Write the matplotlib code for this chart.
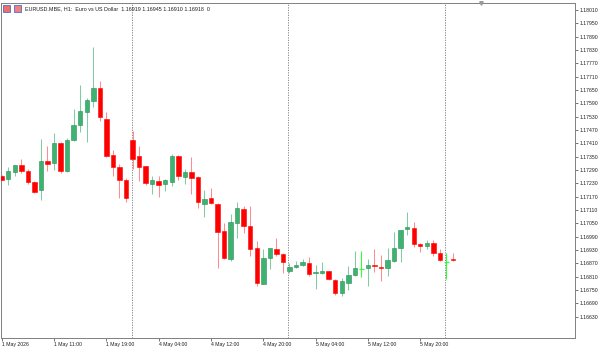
"""
EURUSD H1 candlestick chart (MT5 style), 1-6 May 2026.
"""

import pandas as pd
import matplotlib
matplotlib.use("Agg")
import matplotlib.pyplot as plt
from matplotlib.patches import Rectangle

plt.rcParams["font.family"] = ["Liberation Sans", "DejaVu Sans"]

# ---- data ----
opens = [
    1.17264, 1.17248, 1.17281, 1.17314, 1.17284, 1.17237, 1.17198, 1.17329, 1.17323, 1.17413,
    1.17284, 1.17424, 1.17494, 1.17551, 1.17600, 1.17657, 1.17521, 1.17356, 1.17303, 1.17245,
    1.17425, 1.17351, 1.17308, 1.17227, 1.17242, 1.17227, 1.17237, 1.17353, 1.17258, 1.17279,
    1.17258, 1.17135, 1.17165, 1.17139, 1.17016, 1.16890, 1.17051, 1.17114, 1.17036, 1.16938,
    1.16778, 1.16893, 1.16936, 1.16912, 1.16834, 1.16852, 1.16861, 1.16873, 1.16825, 1.16827,
    1.16834, 1.16797, 1.16735, 1.16780, 1.16818, 1.16846, 1.16848, 1.16863, 1.16855, 1.16849,
    1.16882, 1.16938, 1.17024, 1.17031, 1.16959, 1.16947, 1.16962, 1.16915, 1.16876, 1.16890,
]
highs = [
    1.17267, 1.17303, 1.17314, 1.17339, 1.17296, 1.17240, 1.17428, 1.17398, 1.17457, 1.17416,
    1.17436, 1.17565, 1.17673, 1.17616, 1.17842, 1.17691, 1.17551, 1.17382, 1.17317, 1.17255,
    1.17466, 1.17398, 1.17310, 1.17261, 1.17264, 1.17251, 1.17363, 1.17357, 1.17296, 1.17347,
    1.17261, 1.17201, 1.17207, 1.17141, 1.17051, 1.17091, 1.17148, 1.17130, 1.17126, 1.16972,
    1.16936, 1.16941, 1.16986, 1.16917, 1.16870, 1.16879, 1.16891, 1.16900, 1.16864, 1.16878,
    1.16837, 1.16798, 1.16804, 1.16857, 1.16924, 1.16927, 1.16891, 1.16936, 1.16908, 1.16939,
    1.17013, 1.17022, 1.17103, 1.17054, 1.16963, 1.16974, 1.16977, 1.16933, 1.16915, 1.16915,
]
lows = [
    1.17243, 1.17222, 1.17261, 1.17278, 1.17228, 1.17188, 1.17157, 1.17285, 1.17290, 1.17278,
    1.17281, 1.17419, 1.17460, 1.17416, 1.17574, 1.17512, 1.17350, 1.17264, 1.17163, 1.17145,
    1.17296, 1.17239, 1.17221, 1.17183, 1.17169, 1.17194, 1.17218, 1.17243, 1.17227, 1.17183,
    1.17118, 1.17078, 1.17138, 1.16849, 1.16888, 1.16882, 1.16983, 1.17006, 1.16902, 1.16766,
    1.16775, 1.16846, 1.16902, 1.16828, 1.16825, 1.16851, 1.16858, 1.16812, 1.16754, 1.16822,
    1.16795, 1.16727, 1.16721, 1.16750, 1.16813, 1.16809, 1.16768, 1.16833, 1.16791, 1.16813,
    1.16876, 1.16878, 1.16998, 1.16942, 1.16923, 1.16933, 1.16903, 1.16882, 1.16800, 1.16881,
]
closes = [
    1.17246, 1.17284, 1.17311, 1.17284, 1.17237, 1.17192, 1.17329, 1.17318, 1.17410, 1.17287,
    1.17424, 1.17491, 1.17554, 1.17604, 1.17657, 1.17529, 1.17354, 1.17305, 1.17243, 1.17165,
    1.17341, 1.17303, 1.17230, 1.17243, 1.17221, 1.17246, 1.17351, 1.17261, 1.17279, 1.17255,
    1.17145, 1.17160, 1.17142, 1.17013, 1.16893, 1.17058, 1.17118, 1.17037, 1.16935, 1.16781,
    1.16896, 1.16938, 1.16912, 1.16875, 1.16855, 1.16864, 1.16878, 1.16822, 1.16830, 1.16837,
    1.16798, 1.16735, 1.16789, 1.16819, 1.16849, 1.16846, 1.16863, 1.16857, 1.16851, 1.16885,
    1.16941, 1.17022, 1.17034, 1.16956, 1.16950, 1.16963, 1.16917, 1.16887, 1.16876, 1.16884,
]

# bar times (1 May closes at 22:00, then 4, 5 and 6 May)
times = (
    list(pd.date_range("2026-05-01 03:00", "2026-05-01 22:00", freq="h"))
    + list(pd.date_range("2026-05-04 00:00", "2026-05-05 23:00", freq="h"))
    + list(pd.date_range("2026-05-06 00:00", "2026-05-06 01:00", freq="h"))
)

price_ticks = [1.16630 + 0.0006 * k for k in range(24)]
header = "EURUSD.MBE, H1:  Euro vs US Dollar  1.16919 1.16945 1.16910 1.16918  0"

BULL = "#3CB371"
BULL_EDGE = "#2E8B57"
BEAR = "#FF0000"
DOJI = "#33FF33"


def draw_candles(ax):
    px = 0.000045  # roughly one pixel in price
    for i, (o, h, l, c) in enumerate(zip(opens, highs, lows, closes)):
        if c > o:
            col, edge, wa = BULL, BULL_EDGE, 0.65
        elif c < o:
            col, edge, wa = BEAR, BEAR, 0.45
        else:
            col, edge, wa = DOJI, DOJI, 1.0
        ax.vlines(i, l, h, color=col, lw=0.75, alpha=wa, zorder=2)
        if c == o:
            ax.hlines(o, i - 0.35, i + 0.35, color=col, lw=0.9, zorder=3)
            continue
        bottom = min(o, c)
        height = max(abs(c - o), px)
        ax.bar(i, height, bottom=bottom, width=0.68, color=col,
               edgecolor=edge, linewidth=0.4, zorder=3)


def main():
    fig = plt.figure(figsize=(6, 3.48), dpi=100)
    ax = fig.add_axes([1 / 600, 10 / 348, 574 / 600, 335 / 348])

    draw_candles(ax)

    # period separators at the first bar of each new day
    for i in range(1, len(times)):
        if times[i].date() != times[i - 1].date():
            ax.axvline(i - 0.15, color="#777777", lw=0.6, ls=(0, (1.5, 1.5)), zorder=1)

    ax.set_xlim(-0.11, 87.66)
    ax.set_ylim(1.16534, 1.180415)

    # price axis on the right
    ax.yaxis.tick_right()
    ax.set_yticks(price_ticks)
    ax.set_yticklabels([f"{p:.5f}" for p in price_ticks], fontsize=3.7)
    ax.tick_params(axis="y", length=2.2, width=0.5, pad=1, colors="#404040", labelcolor="#202020")

    # time axis, a label every 8 bars
    xt = list(range(0, len(times), 8))
    xl = []
    for i in xt:
        t = times[i]
        if i == 0:
            xl.append(f"{t.day} {t.strftime('%b')} {t.year}")
        else:
            xl.append(f"{t.day} {t.strftime('%b')} {t.strftime('%H:%M')}")
    ax.set_xticks(xt)
    ax.set_xticklabels(xl, fontsize=3.7, ha="left")
    ax.tick_params(axis="x", length=2.2, width=0.5, pad=1, colors="#404040", labelcolor="#202020")

    for s in ax.spines.values():
        s.set_color("#808080")
        s.set_linewidth(0.7)

    # chart shift marker
    ax.plot([(481 - 1) / 574], [1.0], marker="v", ms=2.5, color="#999999",
            transform=ax.transAxes, clip_on=False, zorder=5)

    # header with two small icons
    fig.patches.append(Rectangle((3 / 600, 1 - 12 / 348), 7 / 600, 7 / 348,
                                 transform=fig.transFigure, facecolor="#e87070",
                                 edgecolor="#5070c8", lw=0.6))
    fig.patches.append(Rectangle((14 / 600, 1 - 12 / 348), 7 / 600, 7 / 348,
                                 transform=fig.transFigure, facecolor="#f08080",
                                 edgecolor="#5070c8", lw=0.6))
    fig.text(25 / 600, 1 - 9 / 348, header, fontsize=3.9, va="center", color="#202020")

    fig.savefig("out.png", dpi=100)
    plt.close(fig)


if __name__ == "__main__":
    main()
